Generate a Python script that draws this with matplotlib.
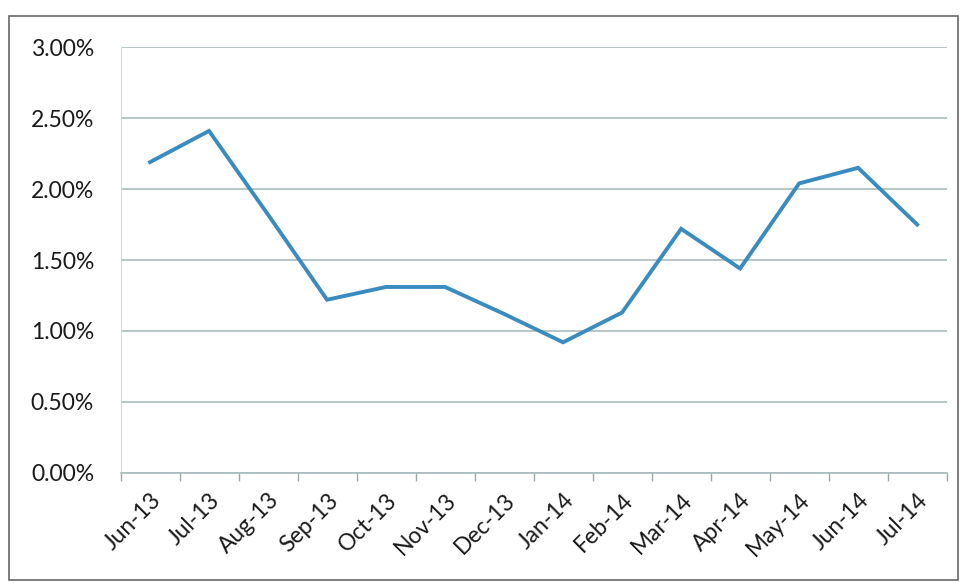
import matplotlib.pyplot as plt
from matplotlib.ticker import FuncFormatter, FixedLocator
from matplotlib.patches import Rectangle

months = ["Jun-13", "Jul-13", "Aug-13", "Sep-13", "Oct-13", "Nov-13", "Dec-13",
          "Jan-14", "Feb-14", "Mar-14", "Apr-14", "May-14", "Jun-14", "Jul-14"]
rate = [2.19, 2.41, 1.82, 1.22, 1.31, 1.31, 1.12,
        0.92, 1.13, 1.72, 1.44, 2.04, 2.15, 1.75]

plt.rcParams['font.family'] = ['Lato', 'DejaVu Sans']

fig = plt.figure(figsize=(9.64, 5.83), dpi=100)
ax = fig.add_axes([0.125, 0.189, 0.857, 0.730])

x = range(len(months))
ax.plot(x, rate, color='#3a8cc0', lw=2.8, solid_joinstyle='miter')

ax.set_xlim(-0.5, len(months) - 0.5)
ax.set_ylim(0, 3.0)
ax.set_yticks([0, 0.5, 1.0, 1.5, 2.0, 2.5, 3.0])
ax.yaxis.set_major_formatter(FuncFormatter(lambda v, p: f"{v:.2f}%"))
ax.grid(axis='y', color='#a9bcbc', lw=1.2)
ax.set_axisbelow(True)

ax.set_xticks(list(x))
ax.set_xticklabels(months, rotation=45, ha='right', rotation_mode='anchor')
ax.xaxis.set_minor_locator(FixedLocator([i - 0.5 for i in range(len(months) + 1)]))
ax.tick_params(axis='x', which='major', length=0, labelsize=16.5, pad=12, colors='#1a1a1a')
ax.tick_params(axis='x', which='minor', length=6, color='#9aa8a8', width=1)
ax.tick_params(axis='y', length=0, labelsize=16.5, pad=19, colors='#1a1a1a')

for s in ['top', 'right']:
    ax.spines[s].set_visible(False)
ax.spines['bottom'].set_color('#a9bcbc')
ax.spines['bottom'].set_linewidth(1.2)
ax.spines['left'].set_color('#d4d8d8')

fig.patches.append(Rectangle((0.009, 0.005), 0.985, 0.968, transform=fig.transFigure,
                             fill=False, edgecolor='#666666', lw=1.2))

fig.savefig('out.png', dpi=100)
